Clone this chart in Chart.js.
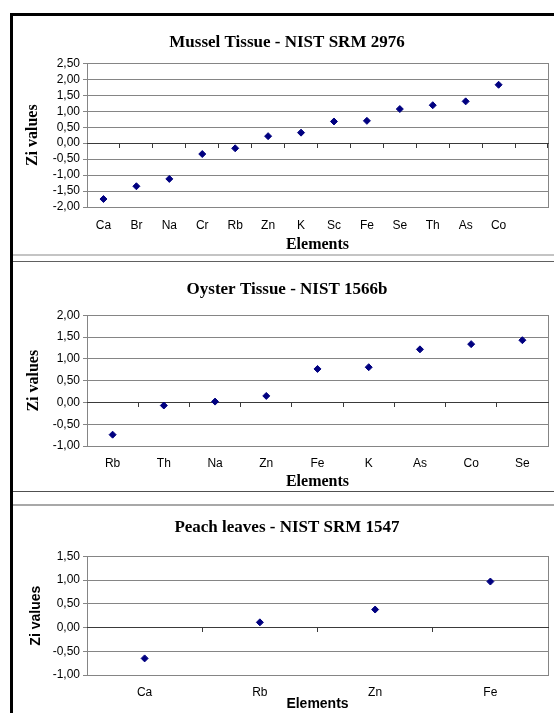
<!DOCTYPE html>
<html>
<head>
<meta charset="utf-8">
<script src="https://cdn.jsdelivr.net/npm/chart.js@4.4.0/dist/chart.umd.min.js"></script>
<style>
  html, body { margin: 0; padding: 0; background: #fff; overflow: hidden; }
  body { width: 554px; height: 713px; position: relative; }
  canvas { position: absolute; left: 13px; display: block; }
  .rule { position: absolute; }
</style>
</head>
<body>
<!-- outer frame and panel separators -->
<div class="rule" style="left:10px; top:13px; width:3px; height:700px; background:#000;"></div>
<div class="rule" style="left:10px; top:13px; width:544px; height:3px; background:#000;"></div>
<div class="rule" style="left:13px; top:254px; width:541px; height:2px; background:#c4c4c4;"></div>
<div class="rule" style="left:13px; top:261px; width:541px; height:1px; background:#606060;"></div>
<div class="rule" style="left:13px; top:491px; width:541px; height:1px; background:#505050;"></div>
<div class="rule" style="left:13px; top:504px; width:541px; height:2px; background:#a8a8a8;"></div>

<canvas id="mussel" width="548" height="238" style="top:16px;"></canvas>
<canvas id="oyster" width="548" height="229" style="top:262px;"></canvas>
<canvas id="peach" width="548" height="207" style="top:506px;"></canvas>

<script>
// Mussel Tissue - NIST SRM 2976 (last slot is empty in the original chart)
const musselElements = ["Ca", "Br", "Na", "Cr", "Rb", "Zn", "K", "Sc", "Fe", "Se", "Th", "As", "Co", ""];
const musselZi = [-1.75, -1.35, -1.12, -0.34, -0.16, 0.22, 0.33, 0.68, 0.70, 1.07, 1.19, 1.31, 1.83];

// Oyster Tissue - NIST 1566b
const oysterElements = ["Rb", "Th", "Na", "Zn", "Fe", "K", "As", "Co", "Se"];
const oysterZi = [-0.74, -0.07, 0.02, 0.15, 0.77, 0.81, 1.22, 1.34, 1.43];

// Peach leaves - NIST SRM 1547
const peachElements = ["Ca", "Rb", "Zn", "Fe"];
const peachZi = [-0.65, 0.11, 0.38, 0.97];

// y axis ranges
const musselRange = [-2.0, 2.5];
const oysterRange = [-1.0, 2.0];
const peachRange = [-1.0, 1.5];

const navy = "#000080";
const gridColor = "#858585";
const zeroColor = "#3a3a3a";
const serif = "'Liberation Serif', 'Times New Roman', serif";
const sans = "'Liberation Sans', Arial, sans-serif";

Chart.defaults.font.family = sans;
Chart.defaults.color = "#000";

function commaTick(value) {
  return Number(value).toFixed(2).replace(".", ",");
}

function makeChart(id, labels, values, range, opt) {
  return new Chart(document.getElementById(id), {
    type: "line",
    data: {
      labels: labels,
      datasets: [
        {
          data: values,
          showLine: false,
          pointStyle: "rectRot",
          pointRadius: 3.5,
          pointBorderWidth: 1,
          pointBackgroundColor: navy,
          pointBorderColor: navy,
          xAxisID: "x",
          yAxisID: "y",
        },
      ],
    },
    options: {
      responsive: false,
      animation: false,
      layout: { padding: 0 },
      plugins: {
        legend: { display: false },
        tooltip: { enabled: false },
        title: {
          display: true,
          text: opt.title,
          color: "#000",
          font: { family: serif, size: 17, weight: "bold" },
          padding: { top: opt.titleTop, bottom: opt.titleBottom },
        },
      },
      scales: {
        x: {
          type: "category",
          offset: true,
          grid: { display: false, drawTicks: false },
          border: { display: false },
          ticks: { padding: opt.labelPad, font: { size: 12 }, color: "#000", maxRotation: 0, autoSkip: false },
          title: {
            display: true,
            text: "Elements",
            color: "#000",
            font: opt.axisTitleFont,
            padding: { top: 0, bottom: 0 },
          },
          afterFit: (scale) => {
            scale.height = opt.xHeight;
          },
        },
        y: {
          min: range[0],
          max: range[1],
          ticks: { stepSize: 0.5, autoSkip: false, callback: commaTick, font: { size: 12 }, color: "#000", padding: 3 },
          grid: { color: gridColor, tickLength: 4 },
          border: { color: gridColor },
          title: {
            display: true,
            text: "Zi values",
            color: "#000",
            font: opt.axisTitleFont,
            padding: { top: opt.yTitlePad, bottom: 0 },
          },
          afterFit: (scale) => {
            scale.width = 74;
          },
        },
        // right side of the plot frame
        yR: {
          position: "right",
          min: range[0],
          max: range[1],
          ticks: { display: false },
          grid: { drawOnChartArea: false, drawTicks: false },
          border: { color: gridColor },
          afterFit: (scale) => {
            scale.width = 13;
          },
        },
        // category axis crossing at zero, with tick marks between categories
        x0: {
          type: "category",
          position: { y: 0 },
          offset: true,
          grid: { offset: true, drawOnChartArea: false, tickLength: 4, color: zeroColor },
          border: { color: zeroColor },
          ticks: { display: false },
        },
      },
    },
  });
}

const timesBold = { family: serif, size: 16, weight: "bold" };
const arialBold = { family: sans, size: 14, weight: "bold" };

makeChart("mussel", musselElements, musselZi, musselRange, {
  title: "Mussel Tissue - NIST SRM 2976",
  titleTop: 16,
  titleBottom: 11,
  labelPad: 11,
  xHeight: 47,
  yTitlePad: 10,
  axisTitleFont: timesBold,
});

makeChart("oyster", oysterElements, oysterZi, oysterRange, {
  title: "Oyster Tissue - NIST 1566b",
  titleTop: 17,
  titleBottom: 16,
  labelPad: 10,
  xHeight: 45,
  yTitlePad: 11,
  axisTitleFont: timesBold,
});

makeChart("peach", peachElements, peachZi, peachRange, {
  title: "Peach leaves - NIST SRM 1547",
  titleTop: 11,
  titleBottom: 19,
  labelPad: 10,
  xHeight: 38,
  yTitlePad: 15,
  axisTitleFont: arialBold,
});
</script>
</body>
</html>
